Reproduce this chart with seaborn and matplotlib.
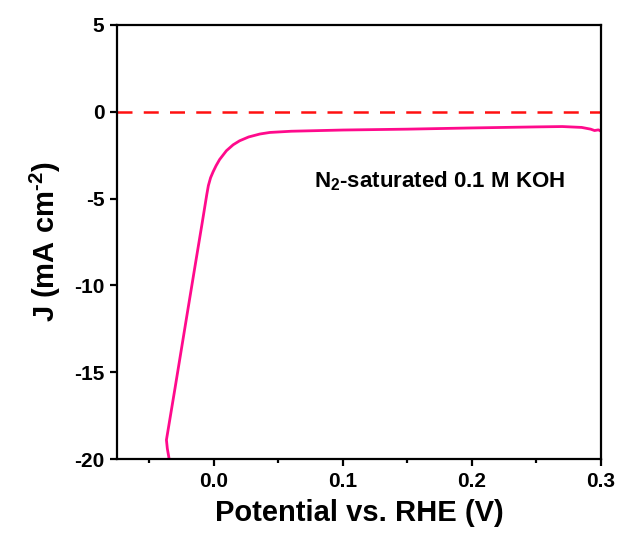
import matplotlib
matplotlib.use("Agg")
import matplotlib.pyplot as plt
from matplotlib.ticker import MultipleLocator
import pandas as pd
import seaborn as sns

# LSV curve in N2-saturated electrolyte
potential = [-0.0346, -0.0360, -0.0367, -0.0300, -0.0212, -0.0147, -0.0090, -0.0066,
             -0.0054, -0.0042, -0.0025, -0.0005, 0.0018, 0.0045, 0.0098, 0.0150,
             0.0200, 0.0270, 0.0357, 0.0434, 0.0600, 0.1000, 0.1500, 0.2000,
             0.2500, 0.2700, 0.2850, 0.2920, 0.2950, 0.2980, 0.3000]
current = [-20.0, -19.4, -18.9, -15.9, -11.9, -8.96, -6.4, -5.3,
           -4.75, -4.25, -3.8, -3.45, -3.1, -2.75, -2.24, -1.9,
           -1.67, -1.45, -1.28, -1.19, -1.12, -1.05, -1.0, -0.93,
           -0.87, -0.85, -0.9, -1.0, -1.08, -1.04, -1.12]

x_ticks = [0.0, 0.1, 0.2, 0.3]
y_ticks = [-20, -15, -10, -5, 0, 5]

sns.set_style("ticks")
plt.rcParams["font.family"] = ["Liberation Sans", "DejaVu Sans"]
plt.rcParams["mathtext.fontset"] = "custom"
plt.rcParams["mathtext.rm"] = "Liberation Sans:bold"
plt.rcParams["mathtext.bf"] = "Liberation Sans:bold"
plt.rcParams["mathtext.default"] = "bf"
plt.rcParams["text.color"] = "black"
plt.rcParams["axes.labelcolor"] = "black"

fig = plt.figure(figsize=(6.21, 5.42), dpi=100)
ax = fig.add_axes([0.1884, 0.1531, 0.9678 - 0.1884, 0.9539 - 0.1531])

df = pd.DataFrame({"E": potential, "J": current})
sns.lineplot(data=df, x="E", y="J", sort=False, color="#ff0a8c", linewidth=2.0, ax=ax)
ax.axhline(0, color="#ff1010", linewidth=1.8, linestyle=(0, (6.0, 4.5)))

ax.set_xlim(-0.075, 0.3)
ax.set_ylim(-20, 5)
ax.set_xticks(x_ticks)
ax.set_xticklabels([f"{t:.1f}" for t in x_ticks])
ax.xaxis.set_minor_locator(MultipleLocator(0.05))
ax.set_yticks(y_ticks)
ax.set_yticklabels([str(t) for t in y_ticks])

for s in ax.spines.values():
    s.set_linewidth(1.6)
    s.set_color("black")
ax.tick_params(which="major", direction="out", length=5, width=1.6,
               labelsize=15, colors="black", pad=4)
ax.tick_params(which="minor", direction="out", length=3, width=1.6, colors="black")
for lab in ax.get_xticklabels() + ax.get_yticklabels():
    lab.set_fontweight("bold")

ax.set_xlabel("Potential vs. RHE (V)", fontsize=21, fontweight="bold", labelpad=6,
              color="black")
ax.set_ylabel("J (mA cm$^{\u20102}$)", fontsize=21, fontweight="bold", labelpad=8,
              color="black")

ax.text(0.175, -4.0, r"N$_2$-saturated 0.1 M KOH", fontsize=16, fontweight="bold",
        ha="center", va="center", color="black")

fig.savefig("out.png", dpi=100)
